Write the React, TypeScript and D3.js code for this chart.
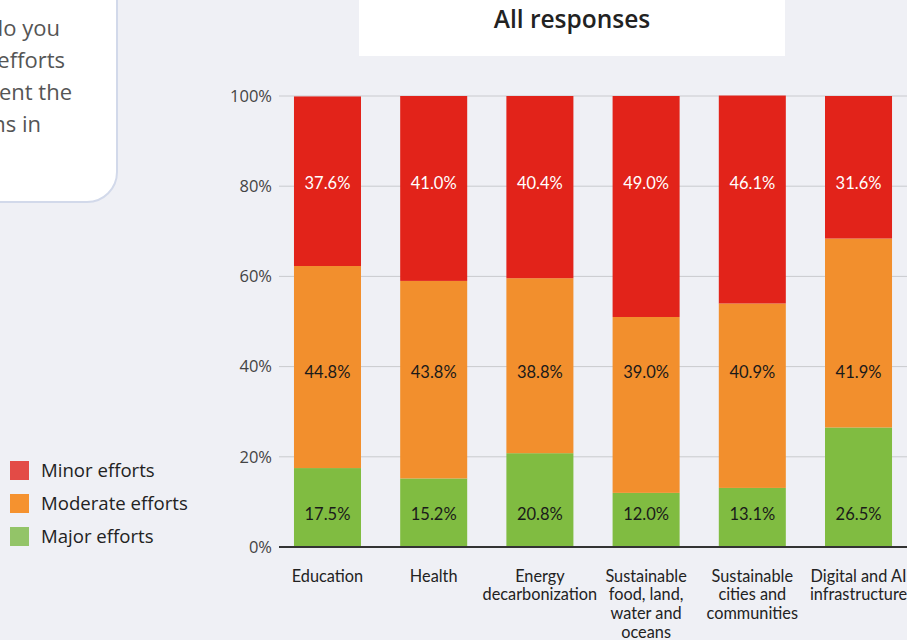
import React from "react";
import * as d3 from "d3";

// Categories along the x axis (line breaks are explicit)
const categories = [
  "Education",
  "Health",
  "Energy decarbonization",
  "Sustainable food, land, water and oceans",
  "Sustainable cities and communities",
  "Digital and AI infrastructure",
];
const categoryLines = [
  ["Education"],
  ["Health"],
  ["Energy", "decarbonization"],
  ["Sustainable", "food, land,", "water and", "oceans"],
  ["Sustainable", "cities and", "communities"],
  ["Digital and AI", "infrastructure"],
];

// Share of responses per category (percent)
const majorEfforts = [17.5, 15.2, 20.8, 12.0, 13.1, 26.5];
const moderateEfforts = [44.8, 43.8, 38.8, 39.0, 40.9, 41.9];
const minorEfforts = [37.6, 41.0, 40.4, 49.0, 46.1, 31.6];

const seriesNames = ["Major efforts", "Moderate efforts", "Minor efforts"];
const legendOrder = ["Minor efforts", "Moderate efforts", "Major efforts"];
const yTicks = [0, 20, 40, 60, 80, 100];

const questionLines = [
  "To what extent do you",
  "undertake efforts",
  "to implement the",
  "six transformations in",
];

const W = 907;
const H = 640;
const BG = "#eff0f5";
const barColors: Record<string, string> = {
  "Minor efforts": "#e2231a",
  "Moderate efforts": "#f28f2d",
  "Major efforts": "#80bc41",
};
const legendColors: Record<string, string> = {
  "Minor efforts": "#e34b46",
  "Moderate efforts": "#f5922f",
  "Major efforts": "#93c468",
};
const labelColors: Record<string, string> = {
  "Minor efforts": "#ffffff",
  "Moderate efforts": "#1a1a1a",
  "Major efforts": "#1a1a1a",
};
// Value-label rows, in axis units
const labelRow: Record<string, number> = {
  "Minor efforts": 80.6,
  "Moderate efforts": 38.8,
  "Major efforts": 7.2,
};

const narrowFont = "Lato, 'Open Sans', sans-serif";
const sansFont = "'Open Sans', 'Noto Sans', sans-serif";

export default function App() {
  const rows = categories.map((c, i) => ({
    category: c,
    "Major efforts": majorEfforts[i],
    "Moderate efforts": moderateEfforts[i],
    "Minor efforts": minorEfforts[i],
  }));

  const stack = d3.stack<any>().keys(seriesNames);
  const layers = stack(rows);

  const x = d3
    .scaleBand<string>()
    .domain(categories)
    .range([279, 907])
    .paddingInner(0.369)
    .paddingOuter(0.141);
  const y = d3.scaleLinear().domain([0, 100]).range([547, 96]);
  const bw = x.bandwidth();

  return (
    <div style={{ position: "absolute", left: 0, top: 0, width: W, height: H, overflow: "hidden" }}>
      <svg width={W} height={H} style={{ display: "block", background: BG }}>
        <rect x={0} y={0} width={W} height={H} fill={BG} />

        {/* Question box, partly off canvas */}
        <rect x={-40} y={-40} width={157} height={242} rx={30} ry={30} fill="#ffffff" stroke="#d2d9ea" strokeWidth={2} />
        {questionLines.map((t, i) => {
          const ends = [60, 65, 72, 41];
          return (
            <text
              key={t}
              x={ends[i]}
              y={28 + i * 32}
              dy="0.35em"
              textAnchor="end"
              fontFamily={sansFont}
              fontSize={22}
              fill="#555555"
            >
              {t}
            </text>
          );
        })}

        {/* Title box */}
        <rect x={359} y={-2} width={426} height={58} fill="#ffffff" />
        <text x={572} y={19} dy="0.35em" textAnchor="middle" fontFamily={sansFont} fontWeight={600} fontSize={24.5} fill="#222222">
          All responses
        </text>

        {/* Gridlines and y tick labels */}
        {yTicks.map((t) => (
          <g key={t}>
            {t > 0 && <line x1={279} x2={W} y1={y(t)} y2={y(t)} stroke="#c9cace" strokeWidth={1} />}
            <text x={272} y={y(t)} dy="0.35em" textAnchor="end" fontFamily={sansFont} fontSize={16.5} fill="#444444">
              {t}%
            </text>
          </g>
        ))}

        {/* Stacked bars */}
        {layers.map((layer) => (
          <g key={layer.key}>
            {layer.map((d: any, i: number) => (
              <rect
                key={i}
                x={x(categories[i])}
                y={y(d[1])}
                width={bw}
                height={y(d[0]) - y(d[1])}
                fill={barColors[layer.key]}
              />
            ))}
          </g>
        ))}

        {/* Value labels */}
        {layers.map((layer) => (
          <g key={layer.key + "-lab"}>
            {layer.map((d: any, i: number) => (
              <text
                key={i}
                x={(x(categories[i]) as number) + bw / 2}
                y={y(labelRow[layer.key])}
                dy="0.35em"
                textAnchor="middle"
                fontFamily={narrowFont}
                fontSize={16.5}
                fill={labelColors[layer.key]}
              >
                {(d[1] - d[0]).toFixed(1)}%
              </text>
            ))}
          </g>
        ))}

        {/* Baseline */}
        <line x1={279} x2={W} y1={y(0)} y2={y(0)} stroke="#333333" strokeWidth={2} />

        {/* Category labels */}
        {categoryLines.map((lines, i) => (
          <text
            key={categories[i]}
            x={(x(categories[i]) as number) + bw / 2}
            y={576}
            textAnchor="middle"
            fontFamily={narrowFont}
            fontSize={16.3}
            fill="#222222"
          >
            {lines.map((ln, j) => (
              <tspan key={j} x={(x(categories[i]) as number) + bw / 2} y={576 + j * 18.7} dy="0.35em">
                {ln}
              </tspan>
            ))}
          </text>
        ))}

        {/* Legend */}
        {legendOrder.map((name, i) => (
          <g key={name} transform={`translate(10, ${461 + i * 33})`}>
            <rect x={0} y={0} width={19} height={19} fill={legendColors[name]} />
            <text x={31} y={9.5} dy="0.35em" fontFamily={sansFont} fontSize={18.6} fill="#222222">
              {name}
            </text>
          </g>
        ))}
      </svg>
    </div>
  );
}
